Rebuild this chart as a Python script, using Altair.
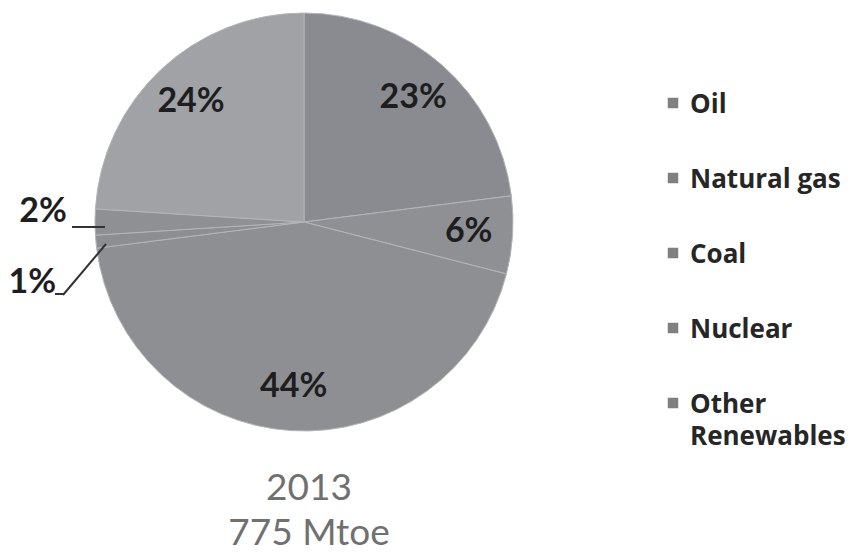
import altair as alt
import pandas as pd

# ---- data ----
categories = ["Oil", "Natural gas", "Coal", "Nuclear", "Other Renewables", "Bioenergy"]
shares = [23, 6, 44, 1, 2, 24]
slice_colors = ["#8a8b90", "#8f9094", "#8e8f93", "#8d8e92", "#8f9094", "#a1a2a6"]

legend_items = ["Oil", "Natural gas", "Coal", "Nuclear", "Other Renewables"]
legend_labels = ["Oil", "Natural gas", "Coal", "Nuclear", "Other\nRenewables"]

caption_lines = ["2013", "775 Mtoe"]

df = pd.DataFrame({"cat": categories, "share": shares, "idx": list(range(len(categories)))})
df_leg = pd.DataFrame({"cat": legend_items, "label": legend_labels})
df_one = pd.DataFrame({"k": [0]})

CX, CY = 296, 214
R = 209

theta = alt.Theta("share:Q", stack=True)
color_scale = alt.Scale(domain=categories, range=slice_colors)

base = alt.Chart(df)

arcs = base.mark_arc(outerRadius=R, stroke="#b4b5b9", strokeWidth=1).encode(
    theta=theta,
    color=alt.Color("cat:N", scale=color_scale, legend=None),
    order=alt.Order("idx:Q"),
    x=alt.value(CX),
    y=alt.value(CY),
)


def label_layer(cond, radius, dy, dx=0):
    return base.transform_calculate(
        lbl=f"({cond}) ? datum.share + '%' : ''"
    ).mark_text(
        radius=radius, dy=dy, dx=dx, fontSize=34, fontWeight="bold", font="Lato",
        color="#1e1e1e", align="center", baseline="middle"
    ).encode(
        theta=theta,
        order=alt.Order("idx:Q"),
        text="lbl:N",
        x=alt.value(CX),
        y=alt.value(CY),
    )


big_labels = label_layer("datum.share >= 5", 165, 0)
lbl_renew = label_layer("datum.cat == 'Other Renewables'", 261, -10)
lbl_nuc = label_layer("datum.cat == 'Nuclear'", 276, 35, 3)

leader_style = dict(color="#333333", strokeWidth=2)
lead1 = alt.Chart(df_one).mark_rule(**leader_style).encode(
    x=alt.value(64), x2=alt.value(97), y=alt.value(219), y2=alt.value(219)
)
lead2 = alt.Chart(df_one).mark_rule(**leader_style).encode(
    x=alt.value(47), x2=alt.value(56), y=alt.value(286), y2=alt.value(286)
)
lead3 = alt.Chart(df_one).mark_rule(**leader_style).encode(
    x=alt.value(55), x2=alt.value(98), y=alt.value(287), y2=alt.value(236)
)

leg_y = alt.Y("cat:N", sort=legend_items,
              scale=alt.Scale(domain=legend_items, range=[95, 395], padding=0),
              axis=None)

leg_sq = alt.Chart(df_leg).mark_square(size=110, color="#808080", opacity=1).encode(
    x=alt.value(665), y=leg_y
)
leg_txt = alt.Chart(df_leg).mark_text(
    font="Open Sans", fontSize=26, fontWeight="bold", color="#262626",
    align="left", baseline="alphabetic", dy=10, lineBreak="\n", lineHeight=32
).encode(
    x=alt.value(682), y=leg_y, text="label:N"
)

caption = alt.Chart(df_one).mark_text(
    text=caption_lines, font="Lato", fontSize=37, color="#707070",
    align="center", baseline="alphabetic", lineHeight=45
).encode(x=alt.value(301), y=alt.value(492))

chart = alt.layer(
    arcs, big_labels, lbl_renew, lbl_nuc, lead1, lead2, lead3, leg_sq, leg_txt, caption
).properties(
    width=846, height=544, padding=0, autosize="none"
).configure_view(stroke=None)

chart.save("out.html", embed_options={"renderer": "svg", "actions": False})
